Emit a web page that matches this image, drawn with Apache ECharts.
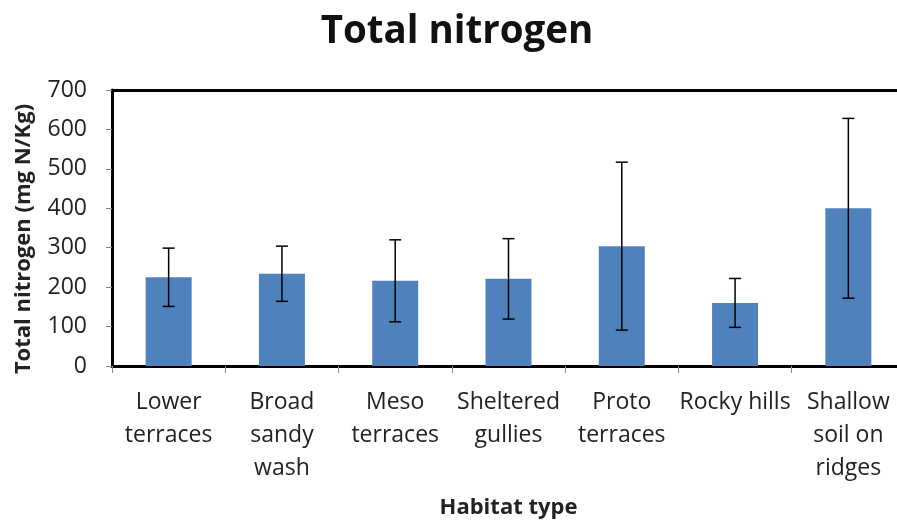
<!DOCTYPE html>
<html>
<head>
<meta charset="utf-8">
<script src="https://cdn.jsdelivr.net/npm/echarts@6/dist/echarts.min.js"></script>
<style>
  html, body { margin: 0; padding: 0; background: #fff; }
  #chart { width: 897px; height: 522px; }
</style>
</head>
<body>
<div id="chart"></div>
<script>
// Habitat categories and mean total nitrogen (mg N/Kg) with error half-widths
var habitats = ['Lower\nterraces', 'Broad\nsandy\nwash', 'Meso\nterraces', 'Sheltered\ngullies', 'Proto\nterraces', 'Rocky hills', 'Shallow\nsoil on\nridges'];
var meanN = [225, 234, 216, 221, 304, 160, 400];
var errN = [74, 70, 104, 102, 213, 62, 228];
var yTicks = [0, 100, 200, 300, 400, 500, 600, 700];

var FONT = '"Open Sans", sans-serif';
var chart = echarts.init(document.getElementById('chart'));

var errData = habitats.map(function (h, i) {
  return [i, meanN[i] - errN[i], meanN[i] + errN[i]];
});

chart.setOption({
  animation: false,
  title: {
    text: 'Total nitrogen',
    left: 452,
    top: 8,
    textAlign: 'center',
    textStyle: { fontFamily: FONT, fontSize: 38.5, fontWeight: 'bold', color: '#111' }
  },
  // plot area runs past the right edge of the page, so its right side is not seen
  grid: {
    left: 112, top: 90, width: 793, height: 276,
    outerBoundsMode: 'none',
    containLabel: false,
    show: false
  },
  xAxis: [
    {
      type: 'category',
      data: habitats,
      name: 'Habitat type',
      nameLocation: 'middle',
      nameGap: 131,
      nameTextStyle: { fontFamily: FONT, fontSize: 22, fontWeight: 'bold', color: '#222' },
      axisLine: { lineStyle: { color: '#000', width: 3 } },
      axisTick: { show: true, length: 7, lineStyle: { color: '#888', width: 1 } },
      axisLabel: {
        interval: 0, margin: 20,
        fontFamily: FONT, fontSize: 23, lineHeight: 33, color: '#222'
      }
    },
    {
      // top frame line of the plot area
      type: 'category',
      data: habitats,
      position: 'top',
      axisLine: { show: true, lineStyle: { color: '#000', width: 3 } },
      axisTick: { show: false },
      axisLabel: { show: false }
    }
  ],
  yAxis: {
    type: 'value',
    min: 0, max: 700, interval: 100,
    name: 'Total nitrogen (mg N/Kg)',
    nameLocation: 'middle',
    nameGap: 77,
    nameTextStyle: { fontFamily: FONT, fontSize: 22, fontWeight: 'bold', color: '#222', padding: [0, 22, 0, 0] },
    axisLine: { show: true, lineStyle: { color: '#000', width: 3 } },
    axisTick: { show: true, length: 6, lineStyle: { color: '#888', width: 1 } },
    splitLine: { show: false },
    axisLabel: {
      margin: 25, fontFamily: FONT, fontSize: 23, color: '#222',
      formatter: function (v) { return yTicks.indexOf(v) >= 0 ? String(v) : ''; }
    }
  },
  // keep the page's right margin inside the plot clean
  graphic: [{
    type: 'rect',
    z: 100,
    shape: { x: 891, y: 92, width: 6, height: 272 },
    style: { fill: '#fff' }
  }],
  series: [
    {
      type: 'bar',
      data: meanN,
      barWidth: 46,
      itemStyle: { color: '#4f81bd' }
    },
    {
      type: 'custom',
      data: errData,
      z: 5,
      renderItem: function (params, api) {
        var x = api.value(0);
        var lo = api.coord([x, api.value(1)]);
        var hi = api.coord([x, api.value(2)]);
        var cap = 6;
        var style = { stroke: '#000', lineWidth: 1.5 };
        return {
          type: 'group',
          children: [
            { type: 'line', shape: { x1: lo[0], y1: lo[1], x2: hi[0], y2: hi[1] }, style: style },
            { type: 'line', shape: { x1: hi[0] - cap, y1: hi[1], x2: hi[0] + cap, y2: hi[1] }, style: style },
            { type: 'line', shape: { x1: lo[0] - cap, y1: lo[1], x2: lo[0] + cap, y2: lo[1] }, style: style }
          ]
        };
      }
    }
  ]
});
</script>
</body>
</html>
